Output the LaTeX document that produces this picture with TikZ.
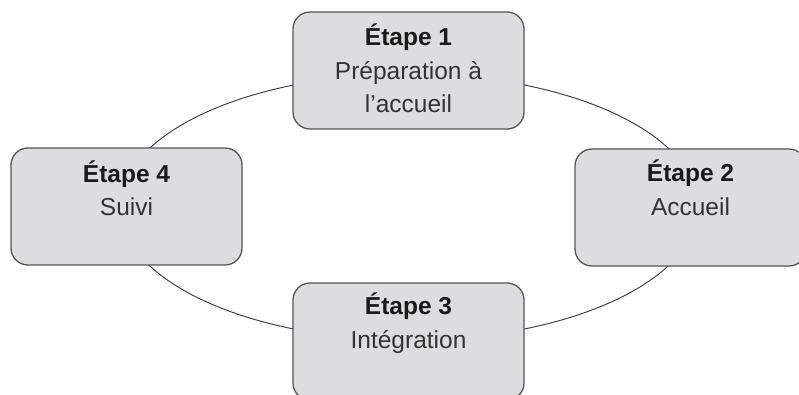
\documentclass[tikz,border=0pt]{standalone}
\usepackage{fontspec}
\setmainfont{Liberation Sans}
\usetikzlibrary{shapes.geometric}
\definecolor{boxfill}{HTML}{DCDDDE}
\definecolor{boxline}{HTML}{555555}
\definecolor{ringcol}{HTML}{444444}
\definecolor{titlecol}{HTML}{1A1A1A}
\definecolor{bodycol}{HTML}{333333}
\begin{document}
\begin{tikzpicture}[x=1pt,y=-1pt,
  stepbox/.style={draw=boxline, fill=boxfill, line width=1.3pt, rounded corners=17pt,
    minimum width=231pt, minimum height=117pt, anchor=north west, inner sep=0pt, outer sep=0pt},
  ringshape/.style={draw=ringcol, line width=1pt, ellipse, inner sep=0pt,
    minimum width=578pt, minimum height=266pt},
  titletxt/.style={anchor=base, inner sep=0pt, font=\bfseries\fontsize{24.5}{28}\selectfont, text=titlecol},
  bodytxt/.style={anchor=base, inner sep=0pt, font=\fontsize{24.5}{28}\selectfont, text=bodycol}]
\useasboundingbox (0,0) rectangle (799,394);
\clip (0,0) rectangle (799,394);
\node[ringshape] (ring) at (409,207) {};
\node[stepbox] (b1) at (293,12) {};
\node[stepbox] (b2) at (575,149) {};
\node[stepbox] (b3) at (293,283) {};
\node[stepbox] (b4) at (11,148) {};
\node[titletxt] (t1) at (408.5,45) {Étape 1};
\node[bodytxt] (p1a) at (408.5,79) {Préparation à};
\node[bodytxt] (p1b) at (408.5,112) {l’accueil};
\node[titletxt] (t2) at (690.5,181) {Étape 2};
\node[bodytxt] (p2) at (690.5,215) {Accueil};
\node[titletxt] (t3) at (408.5,314) {Étape 3};
\node[bodytxt] (p3) at (408.5,348) {Intégration};
\node[titletxt] (t4) at (126.5,182) {Étape 4};
\node[bodytxt] (p4) at (126.5,215) {Suivi};
\end{tikzpicture}
\end{document}
